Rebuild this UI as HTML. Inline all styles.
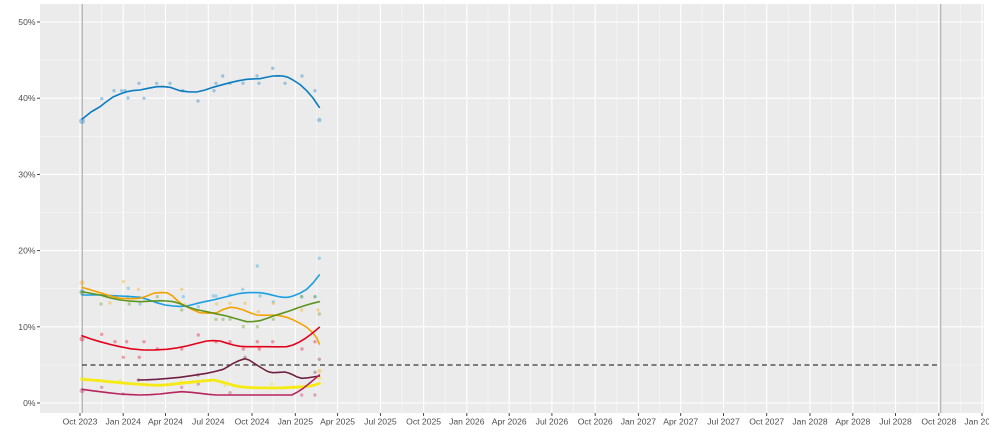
<!DOCTYPE html>
<html><head><meta charset="utf-8"><style>
html,body{margin:0;padding:0;background:#fff;}
svg{display:block;font-family:"Liberation Sans",sans-serif;}
</style></head><body>
<svg width="989" height="440" viewBox="0 0 989 440" xmlns="http://www.w3.org/2000/svg">
<rect x="40" y="4" width="944" height="409" fill="#EBEBEB"/>
<!-- minor horizontal -->
<g stroke="#fff" stroke-width="0.6" opacity="0.7">
<line x1="40" x2="984" y1="365" y2="365"/><line x1="40" x2="984" y1="288.7" y2="288.7"/><line x1="40" x2="984" y1="212.5" y2="212.5"/><line x1="40" x2="984" y1="136.3" y2="136.3"/><line x1="40" x2="984" y1="60.1" y2="60.1"/>
</g>
<!-- minor vertical -->
<g stroke="#fff" stroke-width="0.6" opacity="0.7">
<line x1="101.6" x2="101.6" y1="4" y2="413"/><line x1="144.4" x2="144.4" y1="4" y2="413"/><line x1="186.9" x2="186.9" y1="4" y2="413"/><line x1="230.2" x2="230.2" y1="4" y2="413"/><line x1="273.7" x2="273.7" y1="4" y2="413"/><line x1="316.5" x2="316.5" y1="4" y2="413"/><line x1="359" x2="359" y1="4" y2="413"/><line x1="402" x2="402" y1="4" y2="413"/><line x1="445.2" x2="445.2" y1="4" y2="413"/><line x1="488" x2="488" y1="4" y2="413"/><line x1="530.6" x2="530.6" y1="4" y2="413"/><line x1="573.6" x2="573.6" y1="4" y2="413"/><line x1="616.8" x2="616.8" y1="4" y2="413"/><line x1="659.6" x2="659.6" y1="4" y2="413"/><line x1="702.1" x2="702.1" y1="4" y2="413"/><line x1="745.1" x2="745.1" y1="4" y2="413"/><line x1="788.4" x2="788.4" y1="4" y2="413"/><line x1="831.4" x2="831.4" y1="4" y2="413"/><line x1="874.2" x2="874.2" y1="4" y2="413"/><line x1="917.2" x2="917.2" y1="4" y2="413"/><line x1="960.4" x2="960.4" y1="4" y2="413"/>
</g>
<!-- major horizontal -->
<g stroke="#fff" stroke-width="1.1">
<line x1="40" x2="984" y1="403" y2="403"/><line x1="40" x2="984" y1="326.8" y2="326.8"/><line x1="40" x2="984" y1="250.6" y2="250.6"/><line x1="40" x2="984" y1="174.4" y2="174.4"/><line x1="40" x2="984" y1="98.2" y2="98.2"/><line x1="40" x2="984" y1="22" y2="22"/>
</g>
<!-- major vertical -->
<g stroke="#fff" stroke-width="1.1">
<line x1="80" x2="80" y1="4" y2="413"/><line x1="123.2" x2="123.2" y1="4" y2="413"/><line x1="165.5" x2="165.5" y1="4" y2="413"/><line x1="208.3" x2="208.3" y1="4" y2="413"/><line x1="252" x2="252" y1="4" y2="413"/><line x1="295.3" x2="295.3" y1="4" y2="413"/><line x1="337.6" x2="337.6" y1="4" y2="413"/><line x1="380.4" x2="380.4" y1="4" y2="413"/><line x1="423.6" x2="423.6" y1="4" y2="413"/><line x1="466.8" x2="466.8" y1="4" y2="413"/><line x1="509.2" x2="509.2" y1="4" y2="413"/><line x1="551.9" x2="551.9" y1="4" y2="413"/><line x1="595.2" x2="595.2" y1="4" y2="413"/><line x1="638.4" x2="638.4" y1="4" y2="413"/><line x1="680.7" x2="680.7" y1="4" y2="413"/><line x1="723.5" x2="723.5" y1="4" y2="413"/><line x1="766.7" x2="766.7" y1="4" y2="413"/><line x1="810" x2="810" y1="4" y2="413"/><line x1="852.8" x2="852.8" y1="4" y2="413"/><line x1="895.5" x2="895.5" y1="4" y2="413"/><line x1="938.8" x2="938.8" y1="4" y2="413"/><line x1="982" x2="982" y1="4" y2="413"/>
</g>
<!-- election lines -->
<line x1="82.3" x2="82.3" y1="4" y2="413" stroke="#B8B8B8" stroke-width="1.4"/>
<line x1="940.6" x2="940.6" y1="4" y2="413" stroke="#B8B8B8" stroke-width="1.4"/>
<!-- threshold -->
<line x1="82" x2="940" y1="365" y2="365" stroke="#3a3a3a" stroke-width="1.3" stroke-dasharray="5,3.5"/>

<!-- scatter points -->
<g opacity="0.35" fill="#0A7CC1">
<circle cx="82" cy="121" r="3"/><circle cx="101.7" cy="98.7" r="1.7"/><circle cx="114" cy="90.7" r="1.7"/><circle cx="121.7" cy="90.7" r="1.7"/><circle cx="125" cy="90.7" r="1.7"/><circle cx="128" cy="98" r="1.7"/><circle cx="139" cy="83.3" r="1.7"/><circle cx="144" cy="98.3" r="1.7"/><circle cx="156.7" cy="83.3" r="1.7"/><circle cx="170" cy="83.3" r="1.7"/><circle cx="182.7" cy="90.7" r="1.7"/><circle cx="198" cy="101" r="1.7"/><circle cx="214" cy="90.7" r="1.7"/><circle cx="216" cy="83.3" r="1.7"/><circle cx="222.7" cy="76" r="1.7"/><circle cx="230" cy="83.3" r="1.7"/><circle cx="243" cy="83.3" r="1.7"/><circle cx="257" cy="76" r="1.7"/><circle cx="259" cy="83.3" r="1.7"/><circle cx="272.7" cy="68.3" r="1.7"/><circle cx="285" cy="83.3" r="1.7"/><circle cx="302" cy="76" r="1.7"/><circle cx="315" cy="90.7" r="1.7"/><circle cx="319.3" cy="120" r="2.2"/>
</g>
<g opacity="0.35" fill="#1C9FE0">
<circle cx="82" cy="291.7" r="2.5"/><circle cx="128.3" cy="288.3" r="1.7"/><circle cx="127.7" cy="296.7" r="1.7"/><circle cx="140" cy="304" r="1.7"/><circle cx="183.3" cy="296.7" r="1.7"/><circle cx="198.3" cy="306.7" r="1.7"/><circle cx="213.3" cy="296" r="1.7"/><circle cx="216" cy="296" r="1.7"/><circle cx="230" cy="295" r="1.7"/><circle cx="242.7" cy="289.3" r="1.7"/><circle cx="257.3" cy="266" r="1.7"/><circle cx="260" cy="296" r="1.7"/><circle cx="273.3" cy="301.7" r="1.7"/><circle cx="301.7" cy="296.7" r="1.7"/><circle cx="315" cy="296.7" r="1.7"/><circle cx="319.3" cy="258.3" r="1.7"/>
</g>
<g opacity="0.35" fill="#F5A200">
<circle cx="82" cy="282.7" r="2.5"/><circle cx="110" cy="303" r="1.7"/><circle cx="123.3" cy="281.7" r="1.7"/><circle cx="138.3" cy="289.3" r="1.7"/><circle cx="181.7" cy="289.3" r="1.7"/><circle cx="185" cy="305" r="1.7"/><circle cx="216.7" cy="304" r="1.7"/><circle cx="230" cy="303.3" r="1.7"/><circle cx="245" cy="303.3" r="1.7"/><circle cx="258.3" cy="311.7" r="1.7"/><circle cx="273.3" cy="303.3" r="1.7"/><circle cx="301.7" cy="310" r="1.7"/><circle cx="318" cy="310" r="1.7"/><circle cx="319.3" cy="371" r="2"/>
</g>
<g opacity="0.35" fill="#5E9420">
<circle cx="82" cy="292.7" r="2.5"/><circle cx="101" cy="304" r="1.7"/><circle cx="129.3" cy="304" r="1.7"/><circle cx="157.3" cy="296.7" r="1.7"/><circle cx="181.7" cy="310" r="1.7"/><circle cx="216" cy="319.3" r="1.7"/><circle cx="223" cy="319.3" r="1.7"/><circle cx="230" cy="319.3" r="1.7"/><circle cx="243.3" cy="326.7" r="1.7"/><circle cx="257.3" cy="326.7" r="1.7"/><circle cx="273.3" cy="319.3" r="1.7"/><circle cx="301.7" cy="296.7" r="1.7"/><circle cx="315" cy="296.7" r="1.7"/><circle cx="319.3" cy="314" r="1.7"/>
</g>
<g opacity="0.35" fill="#E2001A">
<circle cx="82" cy="339" r="2.5"/><circle cx="101.7" cy="334.3" r="1.7"/><circle cx="115" cy="341.7" r="1.7"/><circle cx="126.7" cy="341.7" r="1.7"/><circle cx="144" cy="341.7" r="1.7"/><circle cx="123.3" cy="357.3" r="1.7"/><circle cx="139.3" cy="357.3" r="1.7"/><circle cx="157.3" cy="349" r="1.7"/><circle cx="181.7" cy="349" r="1.7"/><circle cx="198.3" cy="335" r="1.7"/><circle cx="216" cy="341.7" r="1.7"/><circle cx="230" cy="341.7" r="1.7"/><circle cx="243.3" cy="349" r="1.7"/><circle cx="257.3" cy="341.7" r="1.7"/><circle cx="259.3" cy="349" r="1.7"/><circle cx="272.7" cy="341.7" r="1.7"/><circle cx="302" cy="349" r="1.7"/><circle cx="315" cy="341.7" r="1.7"/>
</g>
<g opacity="0.35" fill="#6F2043">
<circle cx="138.3" cy="380" r="1.7"/><circle cx="198" cy="375" r="1.7"/><circle cx="245" cy="357.3" r="1.7"/><circle cx="315" cy="372.3" r="1.7"/><circle cx="319.3" cy="359.3" r="1.7"/>
</g>
<g opacity="0.35" fill="#F0DC00">
<circle cx="82" cy="379" r="2.2"/><circle cx="120" cy="381" r="1.7"/><circle cx="181" cy="382" r="1.7"/><circle cx="225" cy="385" r="1.7"/><circle cx="272" cy="384" r="1.7"/><circle cx="319.3" cy="378" r="2"/>
</g>
<g opacity="0.35" fill="#B8245E">
<circle cx="82" cy="390.7" r="2.5"/><circle cx="101.7" cy="387.3" r="1.7"/><circle cx="123" cy="394" r="1.7"/><circle cx="181.7" cy="387.3" r="1.7"/><circle cx="198.3" cy="384" r="1.7"/><circle cx="230" cy="392.7" r="1.7"/><circle cx="301.7" cy="395" r="1.7"/><circle cx="315" cy="395" r="1.7"/>
</g>

<!-- lines -->
<g fill="none" stroke-linejoin="round" stroke-linecap="round">
<polyline stroke="#0A7CC1" stroke-width="1.6" points="82.3,119 91,112 100,106.7 106,102 113,97 120,94 126.7,91.7 133,90.6 140,90 148,88.3 156.7,86.7 163,86.6 170,87.3 175,89 180,90.7 188,91.8 196.7,92 205,90 213,87.3 222,84.8 230,82.7 238,80.8 246.7,79.3 253,78.9 260,78.7 267,77.1 273,76 278,75.8 283,76 288,77.3 293,80 300,84.5 306.7,90.7 313,98 319.3,107.3"/>
<polyline stroke="#1C9FE0" stroke-width="1.6" points="82,295 91,295 100,295 110,295.5 120,296 130,296.6 140,297.3 148,299.5 156.7,302.7 165,305 173.3,306 180,306.4 186.7,306 193,304.5 200,302.7 207,301.2 213,300 223,297.5 233,295 240,293.4 246.7,292.7 253,292.5 260,292.7 267,293.8 273,295.3 278,296.5 283,297.3 288,297.3 293,296 300,293.2 306.7,289.3 313,283 319.3,275"/>
<polyline stroke="#F5A200" stroke-width="1.6" points="82,287.3 91,290 100,292.7 110,295.8 120,298.3 130,298.7 140,298.3 147,296 153.3,293.3 160,292.6 166.7,292.7 172,295.5 176.7,300 181,303.5 186.7,306.7 193,309.9 200,312.7 208,313.2 216.7,312.7 223,309.5 230,307.3 236,307.8 243.3,310 250,312.8 256.7,315 265,315.3 273.3,315 280,315.7 286.7,317.3 293,319.8 300,323.3 307,327.5 313.3,333.3 317,338.5 319.3,344"/>
<polyline stroke="#5E9420" stroke-width="1.6" points="82,291.7 91,293.4 100,295 110,297.8 120,300 130,301.1 140,301.7 150,301.2 160,300.7 167,301 173.3,301.7 180,303.6 186.7,306.7 196,309.5 206.7,311.7 216,313.8 226.7,316 237,319 246.7,321.7 253,321.6 260,320.7 267,318.4 273.3,316 282,313.3 290,310.7 298,307.8 306.7,305 313,303.2 319.3,301.7"/>
<polyline stroke="#E2001A" stroke-width="1.6" points="82,335.7 91,339 100,341.7 110,344.4 120,346.7 131,348.8 143.3,350 155,349.9 166.7,349.3 177,347.9 186.7,346 197,343.4 206.7,341 213,340.6 220,341 227,343.2 233.3,345 240,346.3 246.7,346.7 256,346.7 266.7,346.7 277,346.8 286.7,346.7 293,345 300,341.7 305,338.6 310,335 315,331 319.3,327.3"/>
<polyline stroke="#6F2043" stroke-width="1.6" points="138.3,380 147,379.8 156.7,379.3 168,378.4 180,377.3 193,375.4 206.7,373.3 215,371.5 223.3,369.3 228,366.6 233.3,363.3 239,360.6 245,358.7 249,360 253.3,362.7 260,367 266.7,371 270,372.2 273.3,372.7 280,372.3 285,372 289,373.1 293.3,375 297,376.9 301.7,378.3 308,377.8 313,377 319.3,376"/>
<polyline stroke="#F5EA14" stroke-width="2.8" points="82,379.3 91,380 100,380.7 110,381.8 120,382.7 130,383.6 140,384.3 150,385 160,385.3 170,384.5 180,383.3 190,382.3 200,381.3 207,380.6 213.3,380 220,381.5 226.7,383.3 233,385.2 240,386.7 247,387.4 253.3,387.7 263,387.9 273.3,388 283,387.8 293.3,387.3 302,386.8 310,386 315,385 319.3,383.3"/>
<polyline stroke="#B8245E" stroke-width="1.6" points="82,389.3 91,390.6 100,391.7 110,392.9 120,394 130,394.6 140,395 150,394.7 160,394 171,392.7 181.7,391.7 191,392.3 200,393.3 208,394.3 216.7,395 228,395 240,395 253,395 266.7,395 279,395 291.7,395 297,392.3 303.3,388.3 311,382 319.3,375"/>
</g>

<!-- axis ticks -->
<g stroke="#333" stroke-width="0.9">
<line x1="37" x2="40" y1="403" y2="403"/><line x1="37" x2="40" y1="326.8" y2="326.8"/><line x1="37" x2="40" y1="250.6" y2="250.6"/><line x1="37" x2="40" y1="174.4" y2="174.4"/><line x1="37" x2="40" y1="98.2" y2="98.2"/><line x1="37" x2="40" y1="22" y2="22"/>
<line x1="80" x2="80" y1="413" y2="416"/><line x1="123.2" x2="123.2" y1="413" y2="416"/><line x1="165.5" x2="165.5" y1="413" y2="416"/><line x1="208.3" x2="208.3" y1="413" y2="416"/><line x1="252" x2="252" y1="413" y2="416"/><line x1="295.3" x2="295.3" y1="413" y2="416"/><line x1="337.6" x2="337.6" y1="413" y2="416"/><line x1="380.4" x2="380.4" y1="413" y2="416"/><line x1="423.6" x2="423.6" y1="413" y2="416"/><line x1="466.8" x2="466.8" y1="413" y2="416"/><line x1="509.2" x2="509.2" y1="413" y2="416"/><line x1="551.9" x2="551.9" y1="413" y2="416"/><line x1="595.2" x2="595.2" y1="413" y2="416"/><line x1="638.4" x2="638.4" y1="413" y2="416"/><line x1="680.7" x2="680.7" y1="413" y2="416"/><line x1="723.5" x2="723.5" y1="413" y2="416"/><line x1="766.7" x2="766.7" y1="413" y2="416"/><line x1="810" x2="810" y1="413" y2="416"/><line x1="852.8" x2="852.8" y1="413" y2="416"/><line x1="895.5" x2="895.5" y1="413" y2="416"/><line x1="938.8" x2="938.8" y1="413" y2="416"/><line x1="982" x2="982" y1="413" y2="416"/>
</g>
<g fill="#4D4D4D" font-size="8.6" text-anchor="end">
<text x="35.5" y="406">0%</text><text x="35.5" y="329.8">10%</text><text x="35.5" y="253.6">20%</text><text x="35.5" y="177.4">30%</text><text x="35.5" y="101.2">40%</text><text x="35.5" y="25">50%</text>
</g>
<g fill="#4D4D4D" font-size="8.6" text-anchor="middle">
<text x="80" y="424.5">Oct 2023</text><text x="123.2" y="424.5">Jan 2024</text><text x="165.5" y="424.5">Apr 2024</text><text x="208.3" y="424.5">Jul 2024</text><text x="252" y="424.5">Oct 2024</text><text x="295.3" y="424.5">Jan 2025</text><text x="337.6" y="424.5">Apr 2025</text><text x="380.4" y="424.5">Jul 2025</text><text x="423.6" y="424.5">Oct 2025</text><text x="466.8" y="424.5">Jan 2026</text><text x="509.2" y="424.5">Apr 2026</text><text x="551.9" y="424.5">Jul 2026</text><text x="595.2" y="424.5">Oct 2026</text><text x="638.4" y="424.5">Jan 2027</text><text x="680.7" y="424.5">Apr 2027</text><text x="723.5" y="424.5">Jul 2027</text><text x="766.7" y="424.5">Oct 2027</text><text x="810" y="424.5">Jan 2028</text><text x="852.8" y="424.5">Apr 2028</text><text x="895.5" y="424.5">Jul 2028</text><text x="938.8" y="424.5">Oct 2028</text><text x="982" y="424.5">Jan 2029</text>
</g>
</svg>
</body></html>
